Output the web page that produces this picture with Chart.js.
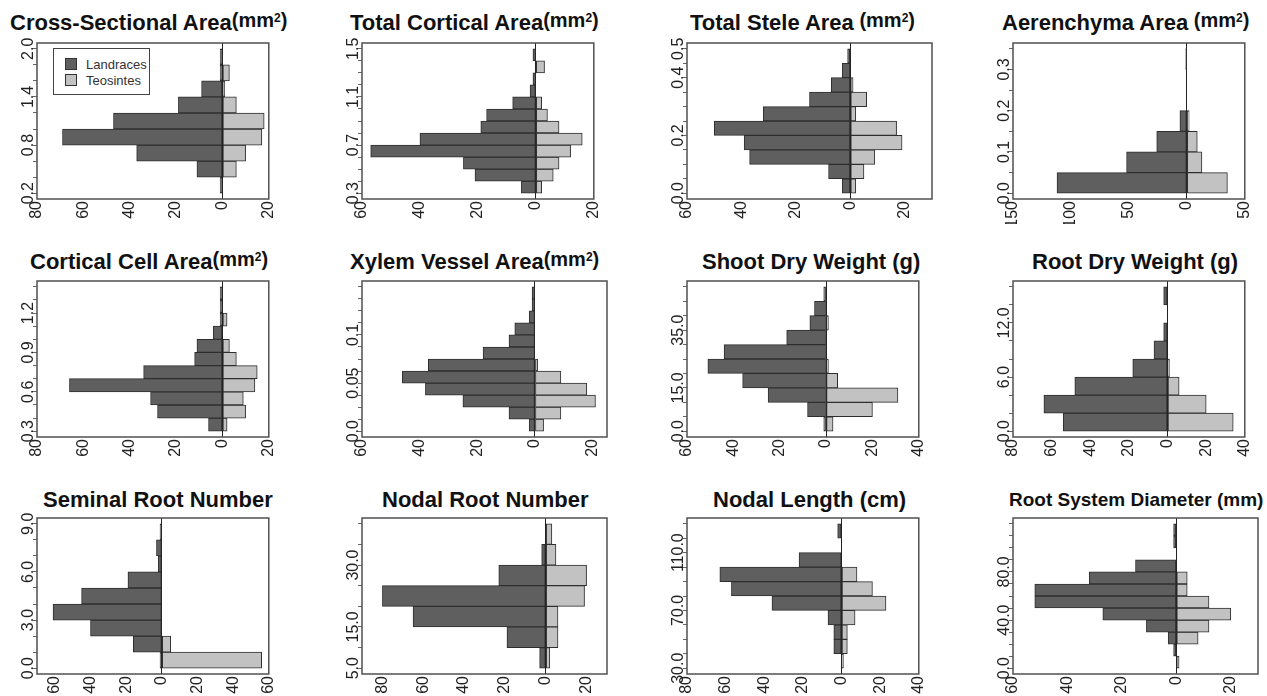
<!DOCTYPE html>
<html>
<head>
<meta charset="utf-8">
<script src="https://cdn.jsdelivr.net/npm/chart.js@4.4.0/dist/chart.umd.min.js"></script>
<style>
    html, body { margin: 0; padding: 0; background: #fff; }
    body { width: 1267px; height: 696px; position: relative; overflow: hidden; font-family: "Liberation Sans", Arial, sans-serif; }
    canvas { position: absolute; }
    .title { position: absolute; white-space: nowrap; font-weight: bold; font-size: 22px; line-height: 22px; color: #111; }
    .title .unit { font-size: 20px; position: relative; top: -3px; }
    .title .unit sup { font-size: 12px; vertical-align: top; position: relative; top: -2px; }
    .legend { position: absolute; left: 53px; top: 48px; width: 95px; height: 45px; border: 1px solid #444; background: #fff; font-size: 13px; color: #333; z-index: 2; }
    .legend .item { position: absolute; left: 11px; white-space: nowrap; line-height: 13px; }
    .legend .sw { display: inline-block; width: 10px; height: 10px; border: 1px solid #333; vertical-align: -1px; margin-right: 9px; }
</style>
</head>
<body>
<div class="legend">
    <div class="item" style="top:9px"><span class="sw" style="background:#5f5f5f"></span>Landraces</div>
    <div class="item" style="top:25px"><span class="sw" style="background:#c2c2c2"></span>Teosintes</div>
</div>
<script>
    // Cross-Sectional Area (mm2)
    var csaBreaks = [0.2, 0.4, 0.6, 0.8, 1.0, 1.2, 1.4, 1.6, 1.8, 2.0];
    var csaLand = [1, 11, 37, 69, 47, 19, 9, 1, 1];
    var csaTeo = [0, 6, 10, 17, 18, 6, 1, 3, 0];
    var csaYLabels = ['0.2', '0.8', '1.4', '2.0'];
    var csaXTicks = [-80, -60, -40, -20, 0, 20];

    // Total Cortical Area (mm2)
    var tcaBreaks = [0.3, 0.4, 0.5, 0.6, 0.7, 0.8, 0.9, 1.0, 1.1, 1.2, 1.3, 1.4, 1.5];
    var tcaLand = [5, 21, 25, 57, 40, 19, 17, 8, 2, 1, 0, 1];
    var tcaTeo = [2, 6, 8, 12, 16, 8, 4, 2, 0, 0, 3, 0];
    var tcaYLabels = ['0.3', '0.7', '1.1', '1.5'];
    var tcaXTicks = [-60, -40, -20, 0, 20];

    // Total Stele Area (mm2)
    var tsaBreaks = [0, 0.05, 0.1, 0.15, 0.2, 0.25, 0.3, 0.35, 0.4, 0.45, 0.5];
    var tsaLand = [3, 8, 37, 39, 50, 32, 15, 7, 3, 1];
    var tsaTeo = [2, 5, 9, 19, 17, 2, 6, 1, 0, 0];
    var tsaYLabels = ['0.0', '0.2', '0.4', '0.5'];
    var tsaXTicks = [-60, -40, -20, 0, 20];

    // Aerenchyma Area (mm2)
    var aerBreaks = [0, 0.05, 0.1, 0.15, 0.2, 0.25, 0.3, 0.35];
    var aerLand = [112, 52, 26, 6, 0, 0, 1];
    var aerTeo = [35, 13, 9, 2, 0, 0, 0];
    var aerYLabels = ['0.0', '0.1', '0.2', '0.3'];
    var aerXTicks = [-150, -100, -50, 0, 50];

    // Cortical Cell Area (mm2)
    var ccaBreaks = [0.3, 0.4, 0.5, 0.6, 0.7, 0.8, 0.9, 1.0, 1.1, 1.2, 1.3, 1.4];
    var ccaLand = [6, 28, 31, 66, 34, 12, 11, 4, 1, 1, 1];
    var ccaTeo = [2, 10, 9, 14, 15, 6, 3, 0, 2, 0, 0];
    var ccaYLabels = ['0.3', '0.6', '0.9', '1.2'];
    var ccaXTicks = [-80, -60, -40, -20, 0, 20];

    // Xylem Vessel Area (mm2)
    var xvaBreaks = [0, 0.0125, 0.025, 0.0375, 0.05, 0.0625, 0.075, 0.0875, 0.1, 0.1125, 0.125, 0.1375, 0.15];
    var xvaLand = [2, 9, 25, 38, 46, 37, 18, 9, 7, 2, 1, 1];
    var xvaTeo = [3, 9, 21, 18, 9, 1, 0, 0, 0, 0, 0, 0];
    var xvaYLabels = ['0.0', '0.05', '0.1'];
    var xvaXTicks = [-60, -40, -20, 0, 20];

    // Shoot Dry Weight (g)
    var sdwBreaks = [0, 5, 10, 15, 20, 25, 30, 35, 40, 45, 50];
    var sdwLand = [1, 8, 25, 36, 51, 44, 17, 7, 5, 1];
    var sdwTeo = [3, 20, 31, 5, 1, 0, 0, 1, 0, 0];
    var sdwYLabels = ['0.0', '15.0', '35.0'];
    var sdwXTicks = [-60, -40, -20, 0, 20, 40];

    // Root Dry Weight (g)
    var rdwBreaks = [0, 2, 4, 6, 8, 10, 12, 14, 16];
    var rdwLand = [54, 64, 48, 18, 7, 2, 0, 2];
    var rdwTeo = [34, 20, 6, 1, 0, 0, 0, 0];
    var rdwYLabels = ['0.0', '6.0', '12.0'];
    var rdwXTicks = [-80, -60, -40, -20, 0, 20, 40];

    // Seminal Root Number
    var srnBreaks = [0, 1, 2, 3, 4, 5, 6, 7, 8, 9];
    var srnLand = [1, 16, 40, 61, 45, 19, 2, 3, 1];
    var srnTeo = [56, 5, 0, 0, 0, 0, 0, 0, 0];
    var srnYLabels = ['0.0', '3.0', '6.0', '9.0'];
    var srnXTicks = [-60, -40, -20, 0, 20, 40, 60];

    // Nodal Root Number
    var nrnBreaks = [5, 10, 15, 20, 25, 30, 35, 40];
    var nrnLand = [3, 19, 65, 80, 23, 2, 0];
    var nrnTeo = [2, 6, 6, 19, 20, 5, 3];
    var nrnYLabels = ['5.0', '15.0', '30.0'];
    var nrnXTicks = [-80, -60, -40, -20, 0, 20];

    // Nodal Length (cm)
    var nlBreaks = [30, 40, 50, 60, 70, 80, 90, 100, 110, 120, 130];
    var nlLand = [0, 4, 4, 7, 36, 57, 63, 22, 0, 2];
    var nlTeo = [1, 3, 3, 7, 23, 16, 8, 0, 0, 0];
    var nlYLabels = ['30.0', '70.0', '110.0'];
    var nlXTicks = [-80, -60, -40, -20, 0, 20, 40];

    // Root System Diameter (mm)
    var rsdBreaks = [0, 10, 20, 30, 40, 50, 60, 70, 80, 90, 100, 110, 120];
    var rsdLand = [0, 1, 3, 11, 27, 52, 52, 32, 15, 0, 1, 1];
    var rsdTeo = [1, 0, 8, 12, 20, 12, 4, 4, 0, 0, 0, 0];
    var rsdYLabels = ['0.0', '40.0', '80.0'];
    var rsdXTicks = [-60, -40, -20, 0, 20];

    var panels = [
        { title: 'Cross-Sectional Area', unit: 'mm', gap: false, breaks: csaBreaks, land: csaLand, teo: csaTeo, yLabels: csaYLabels, xTicks: csaXTicks, xMin: -80, xMax: 20 },
        { title: 'Total Cortical Area', unit: 'mm', gap: false, breaks: tcaBreaks, land: tcaLand, teo: tcaTeo, yLabels: tcaYLabels, xTicks: tcaXTicks, xMin: -60, xMax: 20 },
        { title: 'Total Stele Area', unit: 'mm', gap: true, breaks: tsaBreaks, land: tsaLand, teo: tsaTeo, yLabels: tsaYLabels, xTicks: tsaXTicks, xMin: -60, xMax: 30 },
        { title: 'Aerenchyma Area', unit: 'mm', gap: true, breaks: aerBreaks, land: aerLand, teo: aerTeo, yLabels: aerYLabels, xTicks: aerXTicks, xMin: -150, xMax: 50 },
        { title: 'Cortical Cell Area', unit: 'mm', gap: false, breaks: ccaBreaks, land: ccaLand, teo: ccaTeo, yLabels: ccaYLabels, xTicks: ccaXTicks, xMin: -80, xMax: 20 },
        { title: 'Xylem Vessel Area', unit: 'mm', gap: false, breaks: xvaBreaks, land: xvaLand, teo: xvaTeo, yLabels: xvaYLabels, xTicks: xvaXTicks, xMin: -60, xMax: 25 },
        { title: 'Shoot Dry Weight (g)', breaks: sdwBreaks, land: sdwLand, teo: sdwTeo, yLabels: sdwYLabels, xTicks: sdwXTicks, xMin: -60, xMax: 40 },
        { title: 'Root Dry Weight (g)', breaks: rdwBreaks, land: rdwLand, teo: rdwTeo, yLabels: rdwYLabels, xTicks: rdwXTicks, xMin: -80, xMax: 40 },
        { title: 'Seminal Root Number', breaks: srnBreaks, land: srnLand, teo: srnTeo, yLabels: srnYLabels, xTicks: srnXTicks, xMin: -70, xMax: 60 },
        { title: 'Nodal Root Number', breaks: nrnBreaks, land: nrnLand, teo: nrnTeo, yLabels: nrnYLabels, xTicks: nrnXTicks, xMin: -90, xMax: 30 },
        { title: 'Nodal Length (cm)', breaks: nlBreaks, land: nlLand, teo: nlTeo, yLabels: nlYLabels, xTicks: nlXTicks, xMin: -80, xMax: 40 },
        { title: 'Root System Diameter (mm)', small: true, breaks: rsdBreaks, land: rsdLand, teo: rsdTeo, yLabels: rsdYLabels, xTicks: rsdXTicks, xMin: -60, xMax: 30 }
    ];

    // layout of the grid
    var colLeft = [37, 362, 687, 1013];
    var rowTop = [43, 281, 518];
    var titleLeft = [10, 350, 690, 1002, 30, 350, 702, 1032, 43, 382, 713, 1009];
    var titleTop = [12, 251, 489];
    var plotW = 245, plotH = 156;
    var padL = 37, padT = 8, padR = 8, padB = 25;

    // frame, and y labels written along the axis like R does
    var framePlugin = {
        id: 'frameAndLabels',
        afterDraw: function(chart) {
            var ctx = chart.ctx;
            var a = chart.chartArea;
            var ys = chart.scales.y;
            ctx.save();
            ctx.strokeStyle = '#505050';
            ctx.lineWidth = 1.5;
            ctx.strokeRect(a.left, a.top, a.right - a.left, a.bottom - a.top);

            ctx.font = '16px "Liberation Sans", Arial, sans-serif';
            ctx.fillStyle = '#222';
            ctx.textAlign = 'center';
            ctx.textBaseline = 'alphabetic';
            chart.options.plugins.frameAndLabels.labels.forEach(function(lab) {
                var y = ys.getPixelForValue(parseFloat(lab));
                ctx.save();
                ctx.translate(a.left - 4, y);
                ctx.rotate(-Math.PI / 2);
                ctx.fillText(lab, 0, 0);
                ctx.restore();
            });
            ctx.restore();
        }
    };

    panels.forEach(function(p, k) {
        var c = k % 4, r = Math.floor(k / 4);

        var t = document.createElement('div');
        t.className = 'title';
        t.style.left = titleLeft[k] + 'px';
        t.style.top = titleTop[r] + 'px';
        if (p.small) t.style.fontSize = '19px';
        t.textContent = p.title;
        if (p.unit) {
            var u = document.createElement('span');
            u.className = 'unit';
            u.innerHTML = (p.gap ? ' ' : '') + '(' + p.unit + '<sup>2</sup>)';
            t.appendChild(u);
        }
        document.body.appendChild(t);

        var canvas = document.createElement('canvas');
        canvas.width = plotW + padL + padR;
        canvas.height = plotH + padT + padB;
        canvas.style.left = (colLeft[c] - padL) + 'px';
        canvas.style.top = (rowTop[r] - padT) + 'px';
        document.body.appendChild(canvas);

        var landData = [], teoData = [];
        for (var i = 0; i < p.land.length; i++) {
            var mid = (p.breaks[i] + p.breaks[i + 1]) / 2;
            landData.push({ x: -p.land[i], y: mid });
            teoData.push({ x: p.teo[i], y: mid });
        }

        var lo = p.breaks[0], hi = p.breaks[p.breaks.length - 1];
        var ext = (hi - lo) * 0.04;

        new Chart(canvas.getContext('2d'), {
            type: 'bar',
            data: {
                datasets: [{
                    label: 'Landraces',
                    data: landData,
                    backgroundColor: '#5f5f5f',
                    borderColor: '#2e2e2e',
                    borderWidth: 1,
                    borderSkipped: false,
                    grouped: false,
                    barPercentage: 1,
                    categoryPercentage: 1
                }, {
                    label: 'Teosintes',
                    data: teoData,
                    backgroundColor: '#c2c2c2',
                    borderColor: '#2e2e2e',
                    borderWidth: 1,
                    borderSkipped: false,
                    grouped: false,
                    barPercentage: 1,
                    categoryPercentage: 1
                }]
            },
            options: {
                indexAxis: 'y',
                responsive: false,
                animation: false,
                layout: { padding: { left: 0, top: padT, right: padR, bottom: 0 }, autoPadding: false },
                plugins: {
                    legend: { display: false },
                    tooltip: { enabled: false },
                    frameAndLabels: { labels: p.yLabels }
                },
                scales: {
                    x: {
                        type: 'linear',
                        min: p.xMin,
                        max: p.xMax,
                        afterBuildTicks: function(s) {
                            s.ticks = p.xTicks.map(function(v) { return { value: v }; });
                        },
                        afterFit: function(s) { s.height = padB; },
                        border: { display: false },
                        grid: {
                            drawTicks: false,
                            lineWidth: 1,
                            color: function(ctx) {
                                return (ctx.tick && ctx.tick.value === 0) ? '#222' : 'rgba(0,0,0,0)';
                            }
                        },
                        ticks: {
                            autoSkip: false,
                            minRotation: 90,
                            maxRotation: 90,
                            padding: 2,
                            color: '#222',
                            font: { family: '"Liberation Sans", Arial, sans-serif', size: 16 },
                            callback: function(v) { return String(Math.abs(v)); }
                        }
                    },
                    y: {
                        type: 'linear',
                        min: lo - ext,
                        max: hi + ext,
                        offset: false,
                        afterBuildTicks: function(s) {
                            s.ticks = p.breaks.map(function(v) { return { value: v }; });
                        },
                        afterFit: function(s) { s.width = padL; },
                        border: { display: false },
                        grid: {
                            offset: false,
                            drawOnChartArea: false,
                            drawTicks: true,
                            tickLength: 4,
                            color: '#666'
                        },
                        ticks: { display: false }
                    }
                }
            },
            plugins: [framePlugin]
        });
    });
</script>
</body>
</html>
